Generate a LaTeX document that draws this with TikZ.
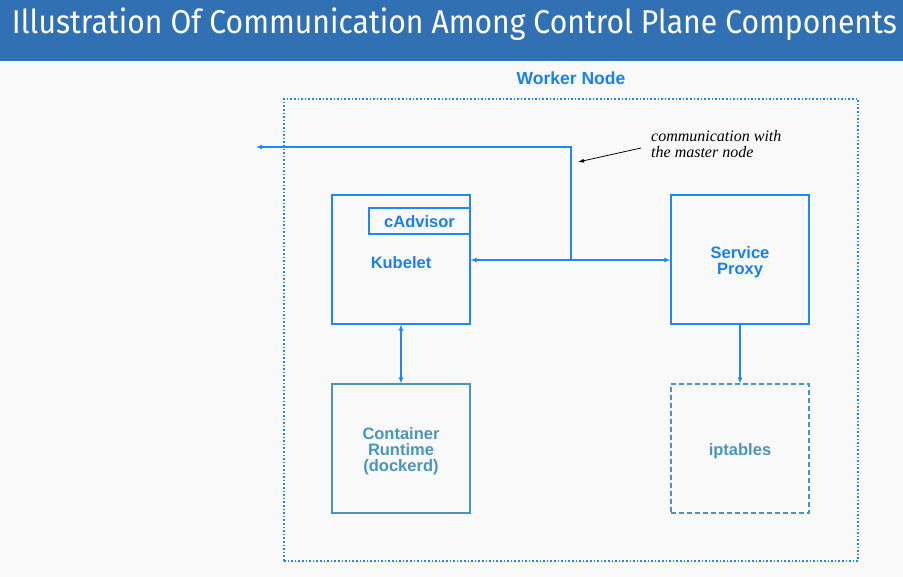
\documentclass[tikz,border=0pt]{standalone}
\usepackage{fontspec}
\setmainfont{Liberation Sans}
\newfontfamily\titlefont{Fira Sans}
\newfontfamily\notefont{Liberation Serif}
\usetikzlibrary{arrows.meta}
\definecolor{barblue}{HTML}{3070B3}
\definecolor{bg}{HTML}{F9F9F9}
\definecolor{lineblue}{HTML}{1F86FB}
\definecolor{textblue}{HTML}{1A7FF0}
\definecolor{steel}{HTML}{4A95BE}
\tikzset{
  comp/.style={draw=lineblue, line width=1.1pt, minimum width=138pt, minimum height=129pt, inner sep=0pt},
  lbl/.style={text=textblue, font=\bfseries\fontsize{16.5}{16}\selectfont, align=center},
  conn/.style={draw=lineblue, line width=1.2pt},
  tip/.style={-{Latex[length=6pt,width=5pt]}},
  dtip/.style={{Latex[length=6pt,width=5pt]}-{Latex[length=6pt,width=5pt]}}
}
\begin{document}
\begin{tikzpicture}[x=1pt,y=-1pt]
\useasboundingbox (0,0) rectangle (903,577);
\fill[bg] (0,0) rectangle (903,577);
\fill[barblue] (0,0) rectangle (903,61);
\node[text=white, font=\titlefont\fontsize{33}{36}\selectfont, anchor=center] (title) at (454.5,24.5) {\resizebox{885pt}{\height}{Illustration Of Communication Among Control Plane Components}};
% worker node
\node[text=textblue, font=\bfseries\fontsize{17.5}{18}\selectfont] (wlabel) at (571,78.5) {Worker Node};
\node[draw=lineblue, line width=1.6pt, dotted, minimum width=574pt, minimum height=462pt, inner sep=0pt] (worker) at (571,330) {};
% components
\node[comp] (kubelet) at (401,259.5) {};
\node[lbl] (kubtxt) at (401,263) {Kubelet};
\node[draw=lineblue, line width=1.1pt, minimum width=101pt, minimum height=26pt, inner sep=0pt] (cadv) at (419.5,221) {};
\node[lbl] (cadvtxt) at (419.5,222) {cAdvisor};
\node[comp] (proxy) at (740,259.5) {};
\node[lbl] (proxytxt) at (740,262.5) {Service\\Proxy};
\node[comp, draw=steel] (runtime) at (401,448.5) {};
\node[lbl, text=steel] (runtxt) at (401,451.5) {Container\\Runtime\\(dockerd)};
\node[comp, draw=steel, dashed, dash pattern=on 5pt off 3pt] (ipt) at (740,448.5) {};
\node[lbl, text=steel] (ipttxt) at (740,451.5) {iptables};
% connectors
\coordinate (j) at (571,260);
\coordinate (up) at (571,147);
\coordinate (out) at (256,147);
\draw[conn, dtip] (kubelet.east |- j) -- (proxy.west |- j);
\draw[conn, tip] (j) -- (up) -- (out);
\draw[conn, dtip] (kubelet.south) -- (runtime.north);
\draw[conn, tip] (proxy.south) -- (ipt.north);
% note
\node[anchor=north west, font=\notefont\itshape\fontsize{16}{15.5}\selectfont, align=left, inner sep=0pt] (note) at (651,130.5) {communication with\\the master node};
\coordinate (nstart) at (641,148);
\coordinate (nend) at (578,162);
\draw[black, line width=0.8pt, -{Latex[length=6pt,width=4pt]}] (nstart) -- (nend);
\end{tikzpicture}
\end{document}
